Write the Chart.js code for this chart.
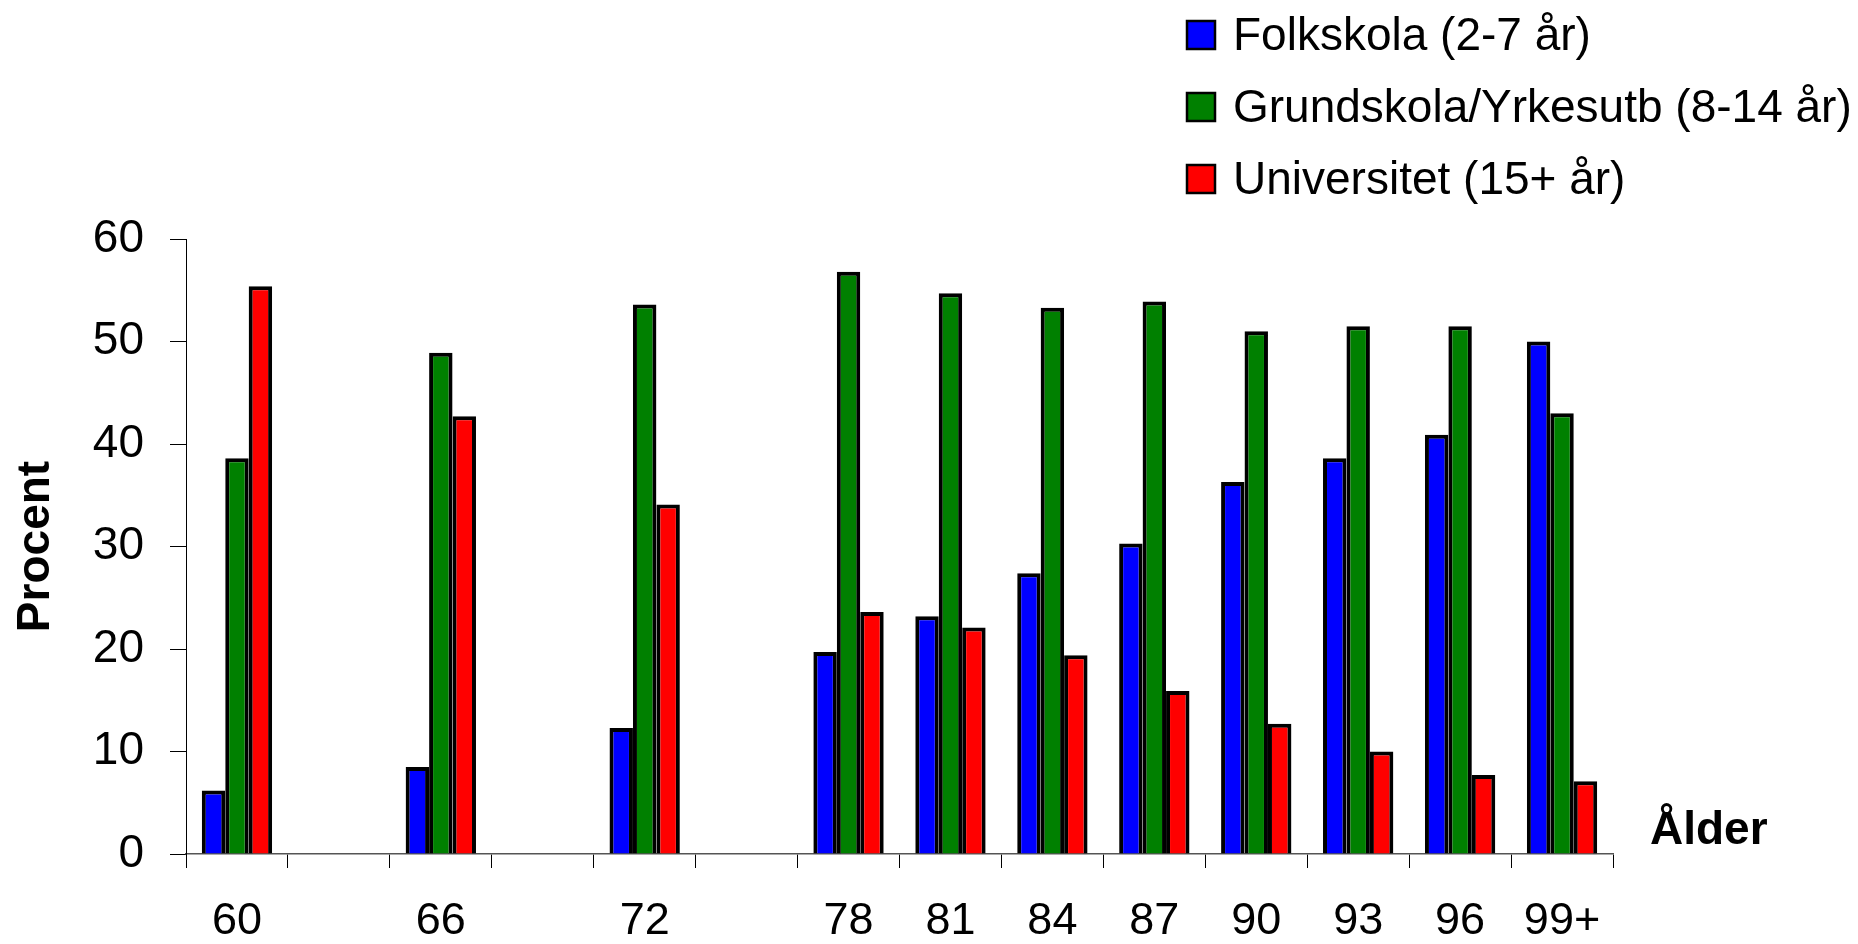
<!DOCTYPE html>
<html>
<head>
<meta charset="utf-8">
<script src="https://cdn.jsdelivr.net/npm/chart.js@4.4.1/dist/chart.umd.min.js"></script>
<style>
html,body{margin:0;padding:0;background:#fff;}
#wrap{width:1858px;height:944px;}
</style>
</head>
<body>
<div id="wrap"><canvas id="c" width="1858" height="944"></canvas></div>
<script>
const categories = ['60', '', '66', '', '72', '', '78', '81', '84', '87', '90', '93', '96', '99+'];
const folkskola = [6.2, null, 8.5, null, 12.3, null, 19.7, 23.2, 27.4, 30.3, 36.3, 38.6, 40.9, 50.0];
const grundskola = [38.6, null, 48.9, null, 53.6, null, 56.8, 54.7, 53.3, 53.9, 51.0, 51.5, 51.5, 43.0];
const universitet = [55.4, null, 42.7, null, 34.1, null, 23.6, 22.1, 19.4, 15.9, 12.7, 10.0, 7.7, 7.1];
const seriesNames = ['Folkskola (2-7 år)', 'Grundskola/Yrkesutb (8-14 år)', 'Universitet (15+ år)'];
const seriesColors = ['#0000FF', '#008000', '#FF0000'];
const yTicks = [0, 10, 20, 30, 40, 50, 60];
const xTitle = 'Ålder';
const yTitle = 'Procent';

const FONT = "'Liberation Sans', Arial, sans-serif";

const legendPlugin = {
  id: 'sideLegend',
  afterDraw(chart) {
    const ctx = chart.ctx;
    ctx.save();
    const rows = [35, 107, 179];
    chart.data.datasets.forEach((ds, i) => {
      const cy = rows[i];
      ctx.fillStyle = ds.backgroundColor;
      ctx.fillRect(1187, cy - 14, 28, 28);
      ctx.lineWidth = 2.5;
      ctx.strokeStyle = '#000';
      ctx.strokeRect(1187, cy - 14, 28, 28);
      ctx.fillStyle = '#000';
      ctx.font = '46px ' + FONT;
      ctx.textBaseline = 'middle';
      ctx.textAlign = 'left';
      ctx.fillText(ds.label, 1233, cy + 2);
    });
    const ca = chart.chartArea;
    ctx.font = 'bold 46px ' + FONT;
    ctx.textBaseline = 'alphabetic';
    ctx.textAlign = 'left';
    ctx.fillStyle = '#000';
    ctx.fillText(xTitle, ca.right + 37, ca.bottom - 10);
    ctx.restore();
  }
};

const datasets = [folkskola, grundskola, universitet].map((vals, i) => ({
  label: seriesNames[i],
  data: vals,
  backgroundColor: seriesColors[i],
  borderColor: '#000',
  borderWidth: 4,
  borderSkipped: 'bottom',
  categoryPercentage: 0.69,
  barPercentage: 1.0
}));

new Chart(document.getElementById('c'), {
  type: 'bar',
  data: { labels: categories, datasets },
  options: {
    responsive: false,
    devicePixelRatio: 1,
    animation: false,
    layout: { padding: { left: 0, top: 239, right: 245, bottom: 0 } },
    plugins: { legend: { display: false }, tooltip: { enabled: false } },
    scales: {
      x: {
        offset: true,
        grid: { display: true, offset: true, drawOnChartArea: false, drawTicks: true, tickLength: 14, color: '#000', lineWidth: 1 },
        border: { display: true, color: '#555', width: 1.5 },
        ticks: { autoSkip: false, maxRotation: 0, color: '#000', font: { family: FONT, size: 45 }, padding: 27 },
        afterFit(s) { s.height = 90; }
      },
      y: {
        min: 0,
        max: 60,
        afterBuildTicks(s) { s.ticks = yTicks.map(v => ({ value: v })); },
        grid: { display: true, drawOnChartArea: false, drawTicks: true, tickLength: 16, color: '#000', lineWidth: 1 },
        border: { display: true, color: '#000', width: 1 },
        ticks: { color: '#000', font: { family: FONT, size: 46 }, padding: 26 },
        title: { display: true, text: yTitle, color: '#000', font: { family: FONT, size: 46, weight: 'bold' }, padding: { top: 9, bottom: 0 } },
        afterFit(s) { s.width = 186; }
      }
    }
  },
  plugins: [legendPlugin]
});
</script>
</body>
</html>
